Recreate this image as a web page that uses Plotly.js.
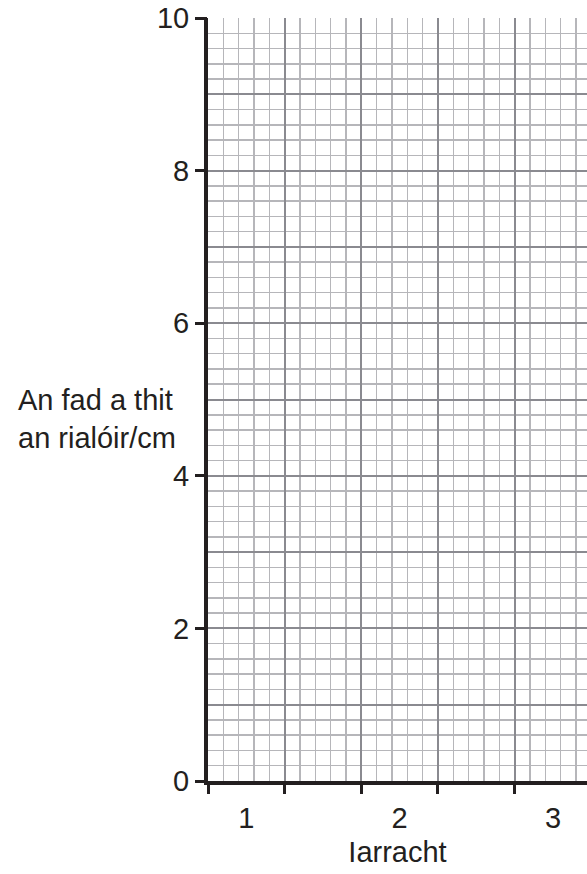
<!DOCTYPE html>
<html>
<head>
<meta charset="utf-8">
<script src="https://cdn.plot.ly/plotly-3.0.1.min.js"></script>
<style>html,body{margin:0;padding:0;background:#fff;}#chart{width:587px;height:874px;}</style>
</head>
<body>
<div id="chart"></div>
<script>
// Data (empty answer grid)
const xCategories = ['1', '2', '3'];
const xCategoryPos = [1, 2, 3];
const xTickMarks = [0.75, 1.25, 1.75, 2.25, 2.75, 3.25];
const yTickVals = [0, 2, 4, 6, 8, 10];
const yTickText = ['0', '2', '4', '6', '8', '10'];
const xRange = [0.75, 3.222];
const yRange = [0, 10];
const xTitle = 'Iarracht';
const yTitle = 'An fad a thit<br>an rialóir/cm';

const FONT = 'Liberation Sans, Arial, Helvetica, sans-serif';
const FS = 29;
const INK = '#231f20';
const MAJOR = '#8a8a90';
const MINOR = '#b6b6ba';

const traces = [
  {x: [], y: [], type: 'scatter', mode: 'markers', xaxis: 'x', yaxis: 'y', hoverinfo: 'skip', showlegend: false},
  {x: [], y: [], type: 'scatter', mode: 'markers', xaxis: 'x2', yaxis: 'y2', hoverinfo: 'skip', showlegend: false}
];

const layout = {
  width: 587, height: 874,
  margin: {l: 208, r: 0, t: 18, b: 93, pad: 0},
  paper_bgcolor: '#ffffff', plot_bgcolor: '#ffffff',
  font: {family: FONT, size: FS, color: INK},
  showlegend: false,
  xaxis: {
    range: xRange, tickmode: 'array', tickvals: xTickMarks,
    ticks: 'outside', ticklen: 9, tickwidth: 3, tickcolor: INK,
    showticklabels: false,
    showgrid: true, gridcolor: MAJOR, gridwidth: 2,
    minor: {tick0: 0.75, dtick: 0.1, showgrid: true, gridcolor: MINOR, gridwidth: 1.5, ticks: ''},
    showline: true, linecolor: INK, linewidth: 4,
    zeroline: false, fixedrange: true
  },
  yaxis: {
    range: yRange, tickmode: 'linear', tick0: 0, dtick: 1,
    ticks: '', showticklabels: false,
    showgrid: true, gridcolor: MAJOR, gridwidth: 2,
    minor: {tick0: 0, dtick: 0.2, showgrid: true, gridcolor: MINOR, gridwidth: 1.5, ticks: ''},
    showline: true, linecolor: INK, linewidth: 4,
    zeroline: false, fixedrange: true
  },
  xaxis2: {
    overlaying: 'x', side: 'bottom', range: xRange,
    tickmode: 'array', tickvals: xCategoryPos, ticktext: xCategories,
    ticks: 'outside', ticklen: 11, tickcolor: 'rgba(0,0,0,0)',
    tickfont: {family: FONT, size: FS, color: INK},
    showgrid: false, showline: false, zeroline: false, fixedrange: true,
    title: {text: xTitle, font: {family: FONT, size: FS, color: INK}, standoff: 8}
  },
  yaxis2: {
    overlaying: 'y', side: 'left', range: yRange,
    tickmode: 'array', tickvals: yTickVals, ticktext: yTickText,
    ticks: 'outside', ticklen: 12, tickwidth: 3, tickcolor: INK,
    tickfont: {family: FONT, size: FS, color: INK},
    showgrid: false, showline: false, zeroline: false, fixedrange: true
  },
  annotations: [{
    text: yTitle, xref: 'paper', yref: 'y', x: 0, y: 4.75,
    xanchor: 'right', yanchor: 'middle', xshift: -30, align: 'left',
    showarrow: false, font: {family: FONT, size: FS, color: INK}
  }]
};

Plotly.newPlot('chart', traces, layout, {staticPlot: true, displayModeBar: false});
</script>
</body>
</html>
